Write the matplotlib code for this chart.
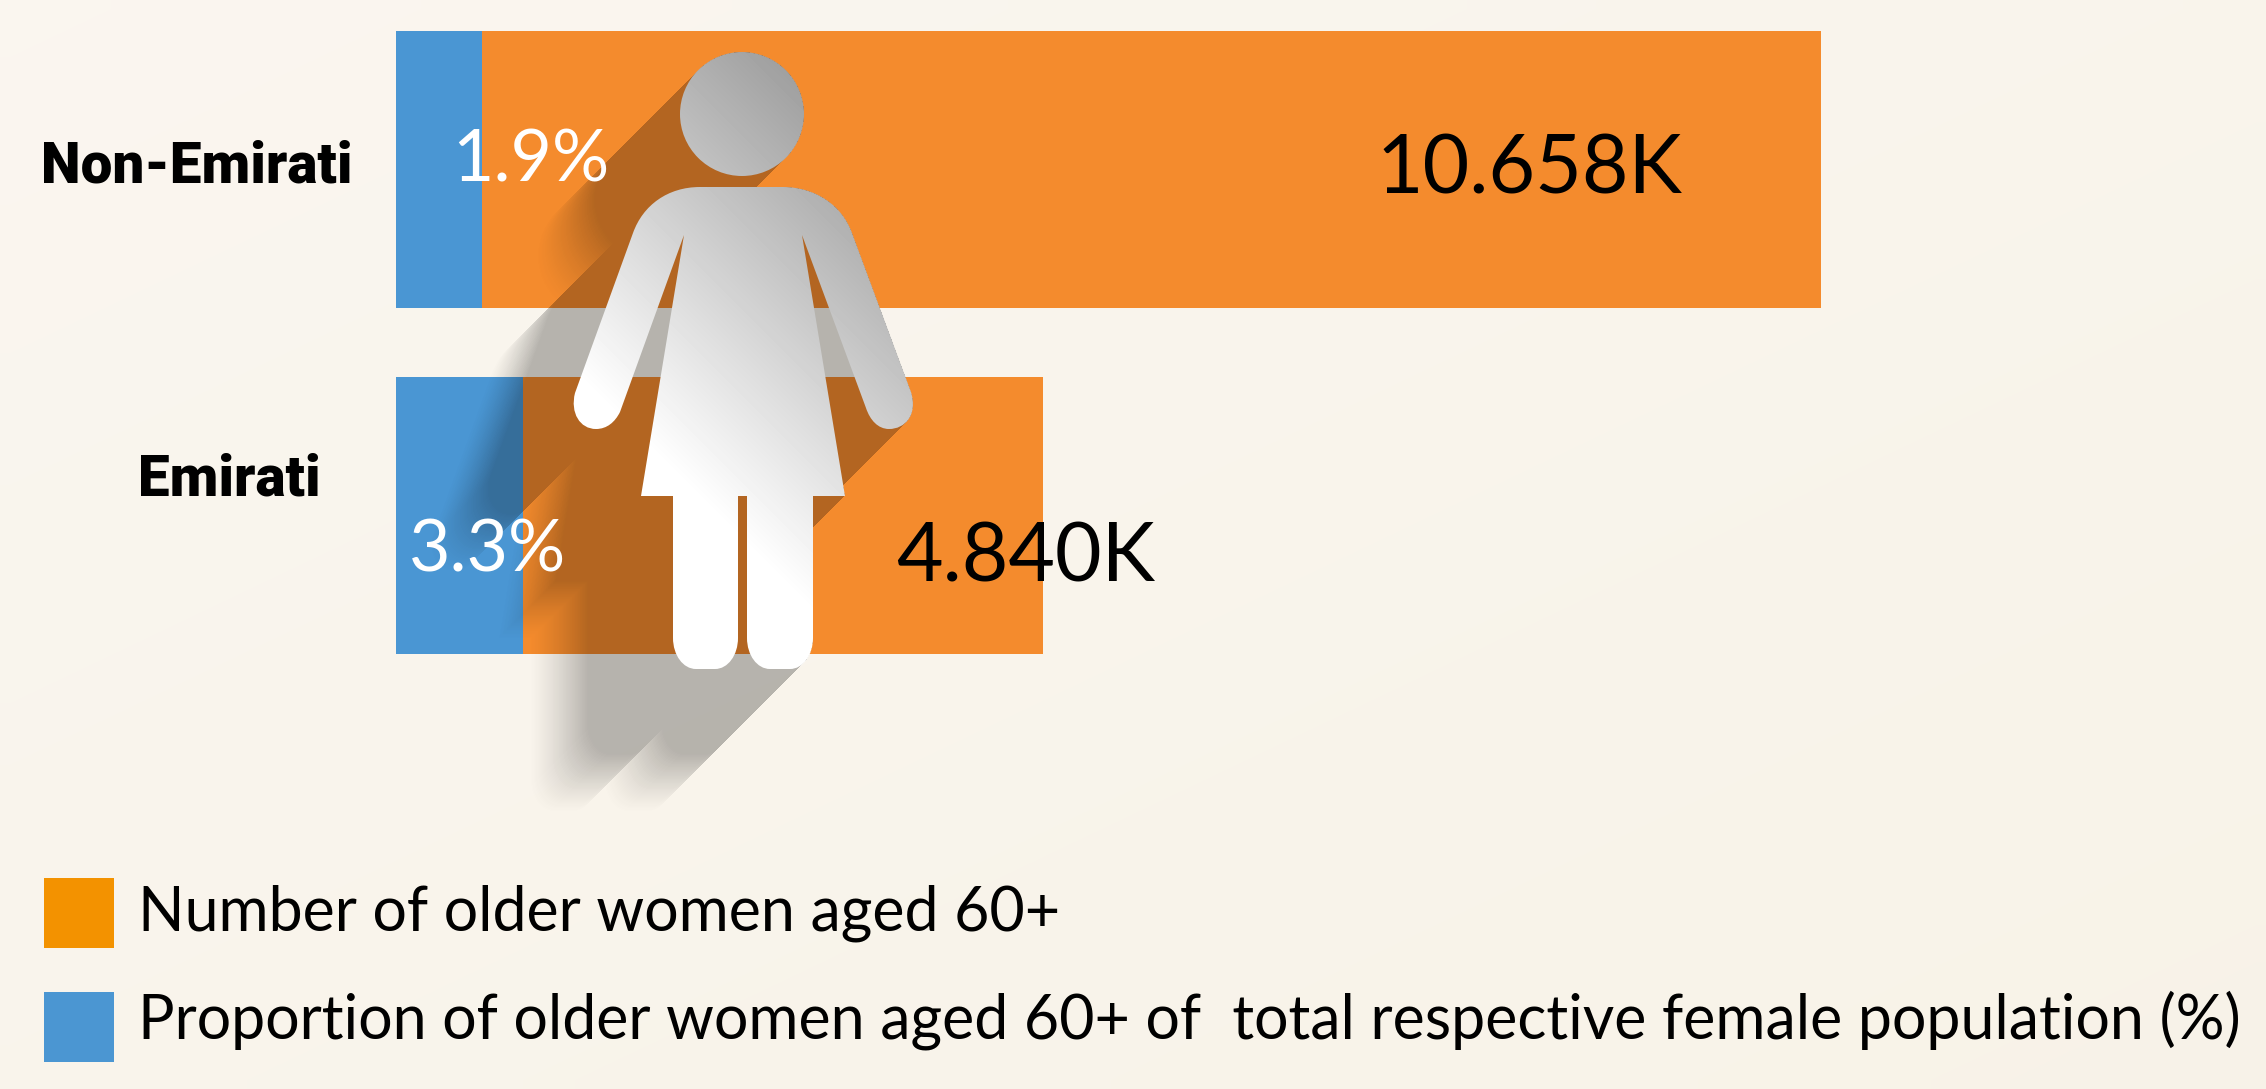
import numpy as np
import matplotlib
matplotlib.use("Agg")
import matplotlib.pyplot as plt
from matplotlib.path import Path
from matplotlib.patches import PathPatch, Rectangle

W, H = 2266, 1089

# values
groups = ["Non-Emirati", "Emirati"]
women_k = [10.658, 4.840]
proportion = [1.9, 3.3]
# blue segment length, in the same units as the orange bar
blue_len_k = [0.643, 0.95]
legend_labels = ["Number of older women aged 60+",
                 "Proportion of older women aged 60+ of  total respective female population (%)"]

ORANGE = "#F48B2D"
BLUE = "#4A96D3"
SWATCH = ["#F39200", "#4B96D2"]
BODY_FONT = ["Lato", "DejaVu Sans"]


def pixel_axes(fig, left, top, right, bottom):
    return fig.add_axes([left / W, 1 - bottom / H, (right - left) / W, (bottom - top) / H])


def woman_paths():
    head = Path.circle((742, 114), 62)
    M, L, C, Z = Path.MOVETO, Path.LINETO, Path.CURVE4, Path.CLOSEPOLY
    seq = [
        (M, [(700, 187)]), (L, [(783, 187)]),
        (C, [(815, 187), (842, 205), (852, 233)]),
        (L, [(911, 392)]),
        (C, [(918, 415), (905, 429), (889, 429)]),
        (C, [(878, 429), (870, 420), (866, 408)]),
        (L, [(802, 235)]), (L, [(845, 496)]), (L, [(813, 496)]), (L, [(813, 638)]),
        (C, [(813, 655), (803, 669), (790, 669)]),
        (L, [(770, 669)]),
        (C, [(757, 669), (747, 655), (747, 638)]),
        (L, [(747, 496)]), (L, [(738, 496)]), (L, [(738, 638)]),
        (C, [(738, 655), (728, 669), (715, 669)]),
        (L, [(696, 669)]),
        (C, [(683, 669), (673, 655), (673, 638)]),
        (L, [(673, 496)]), (L, [(641, 496)]), (L, [(684, 235)]), (L, [(620, 412)]),
        (C, [(615, 422), (607, 429), (596, 429)]),
        (C, [(580, 429), (570, 413), (575, 393)]),
        (L, [(633, 233)]),
        (C, [(643, 205), (668, 187), (700, 187)]),
    ]
    verts, codes = [], []
    for code, pts in seq:
        verts += pts
        codes += [code] * len(pts)
    verts.append((700, 187))
    codes.append(Z)
    return head, Path(verts, codes)


fig = plt.figure(figsize=(W / 100, H / 100), dpi=100)

# background, very soft diagonal gradient
bg = fig.add_axes([0, 0, 1, 1], zorder=0)
yy, xx = np.mgrid[0:1:60j, 0:1:120j]
t = ((xx + yy) / 2)[..., None]
bg.imshow(np.array([0.982, 0.965, 0.94]) * (1 - t) + np.array([0.972, 0.952, 0.91]) * t, aspect="auto", interpolation="bilinear")
bg.axis("off")

# bars
ax = pixel_axes(fig, 396, 31, 1821, 654)
ax.set_zorder(1)
y_pos = np.arange(len(groups))
ax.barh(y_pos, women_k, height=0.8, color=ORANGE)
ax.barh(y_pos, blue_len_k, height=0.8, color=BLUE)
ax.set_xlim(0, max(women_k))
ax.set_ylim(1.4, -0.4)
ax.axis("off")

# everything decorative sits on a pixel-sized overlay
ov = fig.add_axes([0, 0, 1, 1], zorder=2)
ov.patch.set_alpha(0)
ov.axis("off")

head, body = woman_paths()

# long shadow: silhouette swept 45 deg to lower left, fading at the end
x0, x1, y0, y1 = 380, 930, 30, 830
gx, gy = np.meshgrid(np.arange(x0, x1) + 0.5, np.arange(y0, y1) + 0.5)
pts = np.column_stack([gx.ravel(), gy.ravel()])
mask = np.zeros(gx.shape, bool)
for p in (head, body):
    for poly in p.to_polygons():
        mask |= Path(poly).contains_points(pts).reshape(gx.shape)

alpha = np.zeros(gx.shape)
for k in range(0, 146):
    a = 0.27 if k <= 85 else 0.27 * ((145 - k) / 60) ** 1.3
    shifted = np.zeros(gx.shape, bool)
    shifted[k:, :mask.shape[1] - k] = mask[:mask.shape[0] - k, k:]
    alpha = np.maximum(alpha, shifted * a)
shadow = np.zeros(gx.shape + (4,))
shadow[..., 3] = alpha
ov.imshow(shadow, extent=(x0, x1, y1, y0), aspect="auto", zorder=2, interpolation="bilinear")

# silhouette with grey to white gradient
s = gx - gy
grey = np.clip(1 - (s - 200) / 500 * (92 / 255), 0.6, 1)
im = ov.imshow(grey, extent=(x0, x1, y1, y0), cmap="gray", vmin=0, vmax=1, aspect="auto", zorder=3)
clip = PathPatch(Path.make_compound_path(head, body), transform=ov.transData, fc="none", ec="none")
ov.add_patch(clip)
im.set_clip_path(clip)

ov.set_xlim(0, W)
ov.set_ylim(H, 0)

# group labels
group_xy = [(197, 167), (229, 480)]
for name, (lx, ly) in zip(groups, group_xy):
    ov.text(lx, ly, name, ha="center", va="center", fontsize=40.7, fontweight="black",
            family=["Roboto", "DejaVu Sans"], color="black", zorder=5)

# value labels
prop_xy = [(452, 182), (409, 571)]
for p, (lx, ly) in zip(proportion, prop_xy):
    ov.text(lx, ly, f"{p}%", ha="left", va="baseline", fontsize=51.5, family=BODY_FONT, color="white", zorder=5)
num_xy = [(1376, 194), (896, 582)]
for v, (lx, ly) in zip(women_k, num_xy):
    ov.text(lx, ly, f"{v:.3f}K", ha="left", va="baseline", fontsize=58, family=BODY_FONT, color="black", zorder=5)

# legend
for lab, col, top, base in zip(legend_labels, SWATCH, [878, 992], [931, 1038]):
    ov.add_patch(Rectangle((44, top), 70, 70, fc=col, ec="none", zorder=5))
    ov.text(138, base, lab, ha="left", va="baseline", fontsize=43.8, family=BODY_FONT, color="black", zorder=5)

fig.savefig("out.png", dpi=100)
